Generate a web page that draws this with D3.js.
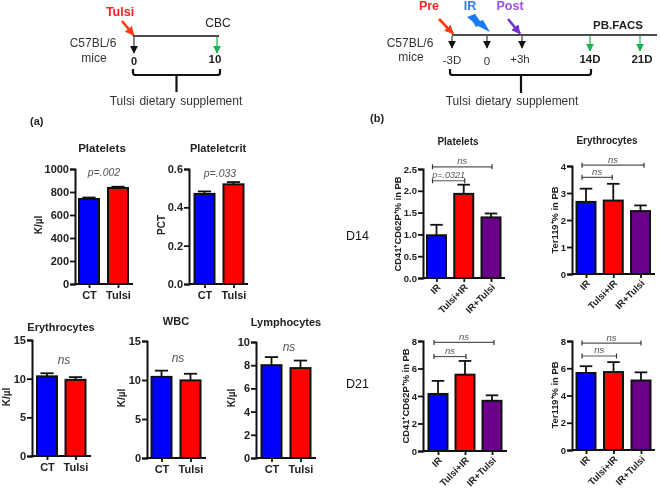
<!DOCTYPE html>
<html><head><meta charset="utf-8">
<script src="https://cdnjs.cloudflare.com/ajax/libs/d3/7.8.5/d3.min.js"></script>
<style>
html,body{margin:0;padding:0;background:#fff}
svg{display:block;filter:blur(0.45px)}
text{font-family:"Liberation Sans",Arial,sans-serif;fill:#1a1a1a}
</style></head><body><svg id="c" width="660" height="490"></svg>
<script>
// ---- data ----
const catsA = ["CT","Tulsi"];
const catsB = ["IR","Tulsi+IR","IR+Tulsi"];
const plateletsVals = [739,835],   plateletsTops = [752,846];
const pctVals = [0.47,0.52],       pctTops = [0.483,0.532];
const eryVals = [10.3,9.85],       eryTops = [10.7,10.2];
const wbcVals = [10.4,9.95],       wbcTops = [11.2,10.8];
const lymVals = [8.0,7.75],        lymTops = [8.7,8.4];
const d14PltVals = [0.98,1.93,1.39], d14PltTops = [1.22,2.14,1.48];
const d14EryVals = [2.67,2.72,2.33], d14EryTops = [3.16,3.34,2.54];
const d21PltVals = [4.15,5.55,3.65], d21PltTops = [5.1,6.55,4.05];
const d21EryVals = [5.65,5.72,5.1],  d21EryTops = [6.15,6.45,5.7];
const ticks1000 = [0,200,400,600,800,1000];
const ticksPct = [0,0.2,0.4,0.6];
const ticks15 = [0,5,10,15];
const ticks10 = [0,2,4,6,8,10];
const ticks25 = [0,0.5,1,1.5,2,2.5];
const ticks4 = [0,1,2,3,4];
const ticks8 = [0,2,4,6,8];
const colorsA = ["#0000ff","#ff0000"];
const colorsB = ["#0000ff","#ff0000","#6a008a"];

// ---- layout of the panels ----
const panels = [
 {title:"Platelets",tx:102,ty:152,yl:"K/µl",ylx:42,ylc:225,cats:catsA,vals:plateletsVals,tops:plateletsTops,ticks:ticks1000,fmt:d=>d,
  ax:75,end:133,c0:89,c1:118,bw:20,y0:284,yt:169,note:"p=.002",nx:104,ny:176,big:true,ts:11.6},
 {title:"Plateletcrit",tx:218,ty:152,yl:"PCT",ylx:165,ylc:225,cats:catsA,vals:pctVals,tops:pctTops,ticks:ticksPct,fmt:d3.format(".1f"),
  ax:189,end:248,c0:204.5,c1:233.5,bw:20,y0:284,yt:169,note:"p=.033",nx:220,ny:177,big:true,ts:11},
 {title:"Erythrocytes",tx:61,ty:331,yl:"K/µl",ylx:10,ylc:397,cats:catsA,vals:eryVals,tops:eryTops,ticks:ticks15,fmt:d=>d,
  ax:32,end:91,c0:47,c1:75.5,bw:20,y0:456,yt:340,note:"ns",nx:64,ny:364,big:true,ts:11},
 {title:"WBC",tx:176,ty:325,yl:"K/µl",ylx:125,ylc:398,cats:catsA,vals:wbcVals,tops:wbcTops,ticks:ticks15,fmt:d=>d,
  ax:147,end:206,c0:161.5,c1:190.5,bw:20,y0:458,yt:341,note:"ns",nx:178,ny:362,big:true,ts:11},
 {title:"Lymphocytes",tx:286,ty:326,yl:"K/µl",ylx:235,ylc:398,cats:catsA,vals:lymVals,tops:lymTops,ticks:ticks10,fmt:d=>d,
  ax:256,end:316,c0:271.5,c1:300.5,bw:20,y0:458,yt:342,note:"ns",nx:289,ny:351,big:true,ts:11},
 {title:"Platelets",tx:458,ty:145,yl:"CD41⁺CD62P⁺% in PB",ylx:401,ylc:224,cats:catsB,vals:d14PltVals,tops:d14PltTops,ticks:ticks25,fmt:d3.format(".1f"),
  ax:423,end:505,c0:436.5,c1:491,bw:19,y0:278,yt:169,ts:10,
  brackets:[{v:2.55,a:0,b:2,t:"ns",da:-4,db:1},{v:2.23,a:0,b:1,t:"p=.0321",da:-4,db:1}]},
 {title:"Erythrocytes",tx:607,ty:144,yl:"Ter119⁺% in PB",ylx:558,ylc:220,cats:catsB,vals:d14EryVals,tops:d14EryTops,ticks:ticks4,fmt:d=>d,
  ax:572,end:655,c0:586,c1:640.5,bw:19,y0:274,yt:166,ts:10,
  brackets:[{v:4.03,a:0,b:2,t:"ns",da:-4,db:3.5},{v:3.58,a:0,b:1,t:"ns",da:-4,db:-1}]},
 {title:"",yl:"CD41⁺CD62P⁺% in PB",ylx:409,ylc:396,cats:catsB,vals:d21PltVals,tops:d21PltTops,ticks:ticks8,fmt:d=>d,
  ax:423,end:507,c0:438,c1:492,bw:19,y0:451,yt:341,
  brackets:[{v:7.9,a:0,b:2,t:"ns",da:-4,db:2},{v:6.87,a:0,b:1,t:"ns",da:-4,db:1}]},
 {title:"",yl:"Ter119⁺% in PB",ylx:558,ylc:395,cats:catsB,vals:d21EryVals,tops:d21EryTops,ticks:ticks8,fmt:d=>d,
  ax:572,end:655,c0:586,c1:641,bw:19,y0:450,yt:341,
  brackets:[{v:7.85,a:0,b:2,t:"ns",da:-4,db:0},{v:6.9,a:0,b:1,t:"ns",da:-4,db:3}]}
];

const svg = d3.select("#c");
svg.append("defs").selectAll("marker").data([["k","#111"],["g","#19b050"],["r","#ff3a10"],["p","#7a30d0"]]).join("marker")
  .attr("id",d=>"m"+d[0]).attr("markerUnits","userSpaceOnUse").attr("viewBox","0 0 10 10").attr("refX",9).attr("refY",5)
  .attr("markerWidth",d=>(d[0]==="r"||d[0]==="p")?9:8).attr("markerHeight",d=>(d[0]==="r"||d[0]==="p")?9:8).attr("orient","auto")
  .append("path").attr("d","M0,0L10,5L0,10Z").attr("fill",d=>d[1]);

function txt(x,y,s,o={}){
  return svg.append("text").attr("x",x).attr("y",y).text(s)
    .attr("text-anchor",o.a||"middle").attr("font-size",o.s||11)
    .attr("font-weight",o.b?"bold":"normal").attr("font-style",o.i?"italic":"normal")
    .style("fill",o.c||"#222").style("word-spacing",o.ws||null);
}
function ln(x1,y1,x2,y2,c="#111",w=1.5,m){
  const l=svg.append("line").attr("x1",x1).attr("y1",y1).attr("x2",x2).attr("y2",y2).attr("stroke",c).attr("stroke-width",w);
  if(m) l.attr("marker-end",`url(#m${m})`);
  return l;
}
function brace(x0,x1,yT,stemX,stemEnd){
  svg.append("path").attr("fill","none").attr("stroke","#111").attr("stroke-width",2.2)
   .attr("d",`M${x0},${yT}V${yT+4}Q${x0},${yT+6} ${x0+3},${yT+6}H${x1-3}Q${x1},${yT+6} ${x1},${yT+4}V${yT}M${stemX},${yT+6}V${stemEnd}`);
}

// ---- schematic (a) ----
txt(120,16,"Tulsi",{b:1,c:"#ff2020",s:12.5});
ln(122,21,133.5,35,"#ff3a10",2.6,"r");
txt(218,27,"CBC",{s:12});
ln(133,36,219,36,"#111",1.6);
ln(134,37,134,53,"#111",1,"k");
ln(217,37,217,53,"#19b050",1.2,"g");
txt(93,47,"C57BL/6",{s:12,c:"#333"});
txt(94,62,"mice",{s:12,c:"#333"});
txt(134,65,"0",{b:1,s:11});
txt(215,63,"10",{b:1,s:11.5});
brace(133,220,69,176.5,92);
txt(176,105,"Tulsi dietary supplement",{s:12,c:"#333",ws:"1.5px"});
txt(30,125,"(a)",{a:"start",b:1,s:11});

// ---- schematic (b) ----
txt(429,10,"Pre",{b:1,c:"#ff2020",s:12.5});
txt(470,10,"IR",{c:"#2f7df0",s:12.5,b:1});
txt(510,10,"Post",{b:1,c:"#9a50e8",s:12.5});
ln(439,19,453,33.5,"#ff3a10",2.6,"r");
ln(508,19,520,33.5,"#7a30d0",2.6,"p");
svg.append("path").attr("fill","#1a7cf5").attr("d","M467,17L475,14L480,21L483,20L490,32L478,26L476,27L473,22Z");
txt(618,29,"PB.FACS",{b:1,s:11.5});
ln(452,35,657,35,"#111",1.6);
[452,487,522].forEach(x=>ln(x,36,x,48,"#111",1,"k"));
[590,640].forEach(x=>ln(x,36,x,51,"#19b050",1.2,"g"));
txt(410,47,"C57BL/6",{s:12,c:"#333"});
txt(411,61,"mice",{s:12,c:"#333"});
txt(452,64,"-3D",{s:11.5,c:"#333"});
txt(487,65,"0",{s:11.5,c:"#333"});
txt(520,63,"+3h",{s:11.5,c:"#333"});
txt(590,63,"14D",{b:1,s:11.5});
txt(642,63,"21D",{b:1,s:11.5});
brace(450,591,69,521,93);
txt(512,105,"Tulsi dietary supplement",{s:12,c:"#333",ws:"1.5px"});
txt(370,122,"(b)",{a:"start",b:1,s:11});
txt(346,240,"D14",{a:"start",s:12.5,c:"#111"});
txt(346,388,"D21",{a:"start",s:12.5,c:"#111"});

// ---- charts ----
panels.forEach(p=>{
  const y=d3.scaleLinear().domain([0,d3.max(p.ticks)]).range([p.y0,p.yt]);
  const x=d3.scalePoint().domain(p.cats).range([p.c0,p.c1]);
  const colors=p.big?colorsA:colorsB;
  const g=svg.append("g");
  const rows=p.cats.map((c,i)=>({c,v:p.vals[i],t:p.tops[i],col:colors[i]}));
  g.selectAll("line.e").data(rows).join("line").attr("x1",d=>x(d.c)).attr("x2",d=>x(d.c))
    .attr("y1",d=>y(d.v)).attr("y2",d=>y(d.t)).attr("stroke","#111").attr("stroke-width",1.8);
  g.selectAll("line.c").data(rows).join("line").attr("x1",d=>x(d.c)-p.bw*0.33).attr("x2",d=>x(d.c)+p.bw*0.33)
    .attr("y1",d=>y(d.t)).attr("y2",d=>y(d.t)).attr("stroke","#111").attr("stroke-width",1.8);
  g.selectAll("rect").data(rows).join("rect").attr("x",d=>x(d.c)-p.bw/2).attr("width",p.bw)
    .attr("y",d=>y(d.v)).attr("height",d=>y(0)-y(d.v)).attr("fill",d=>d.col)
    .attr("stroke","#111").attr("stroke-width",2);
  const ya=svg.append("g").attr("transform",`translate(${p.ax},0)`)
    .call(d3.axisLeft(y).tickValues(p.ticks).tickFormat(p.fmt).tickSize(5).tickPadding(1));
  ya.select(".domain").attr("stroke","#111").attr("stroke-width",2);
  ya.selectAll(".tick line").attr("stroke","#111").attr("stroke-width",1.8);
  ya.selectAll("text").attr("font-size",p.big?11:9.5).attr("font-weight","bold")
    .style("font-family",'"Liberation Sans",Arial,sans-serif').style("fill","#222");
  const xa=svg.append("g").attr("transform",`translate(0,${p.y0})`)
    .call(d3.axisBottom(x).tickSize(4).tickPadding(3));
  xa.select(".domain").remove();
  xa.append("line").attr("x1",p.ax).attr("x2",p.end).attr("stroke","#111").attr("stroke-width",2);
  xa.selectAll(".tick line").attr("stroke","#111").attr("stroke-width",1.8);
  const tl=xa.selectAll(".tick text").style("font-family",'"Liberation Sans",Arial,sans-serif').style("fill","#222").attr("font-weight","bold");
  if(p.big){ tl.attr("font-size",11); }
  else { tl.attr("font-size",9.6).attr("text-anchor","end").attr("x",-4).attr("y",10).attr("dy",0).attr("transform","rotate(-45)"); }
  if(p.title) txt(p.tx,p.ty,p.title,{b:1,s:p.ts});
  svg.append("text").attr("transform",`translate(${p.ylx},${p.ylc}) rotate(-90)`)
    .attr("text-anchor","middle").attr("font-size",p.big?10:9.4).attr("font-weight","bold").style("fill","#222").text(p.yl);
  if(p.note) txt(p.nx,p.ny,p.note,{i:1,s:p.note==="ns"?12:10.5,c:"#555"});
  (p.brackets||[]).forEach(b=>{
    const x1=x(p.cats[b.a])+b.da,x2=x(p.cats[b.b])+b.db,yy=y(b.v);
    ln(x1,yy,x2,yy,"#555",1.2);
    ln(x1,yy-2.5,x1,yy+2.5,"#333",1.2);
    ln(x2,yy-2.5,x2,yy+2.5,"#333",1.2);
    txt((x1+x2)/2,yy-2.5,b.t,{i:1,s:b.t==="ns"?9.5:9,c:"#555"});
  });
});
</script></body></html>
